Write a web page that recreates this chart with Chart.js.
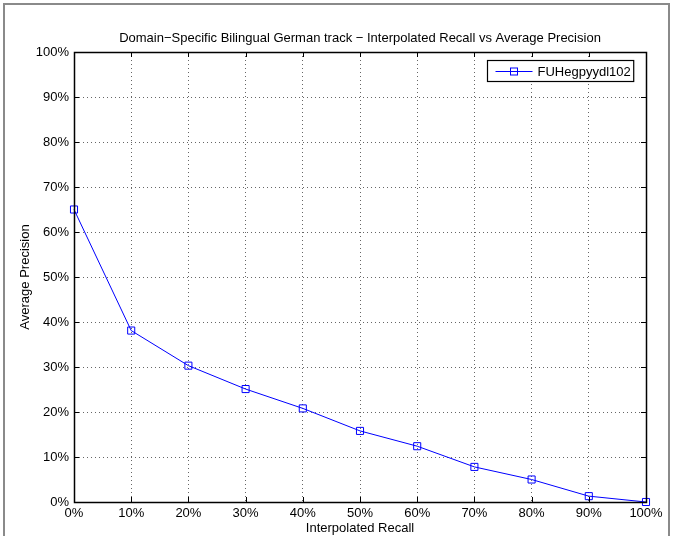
<!DOCTYPE html>
<html>
<head>
<meta charset="utf-8">
<script src="https://cdn.jsdelivr.net/npm/chart.js@4/dist/chart.umd.min.js"></script>
<style>
  html, body { margin: 0; padding: 0; background: #fff; }
  #wrap { width: 673px; height: 536px; position: relative; }
</style>
</head>
<body>
<div id="wrap"><canvas id="chart"></canvas></div>
<script>
// recall levels (x) and average precision (y), in percent
const recallLevels = [0, 10, 20, 30, 40, 50, 60, 70, 80, 90, 100];
const avgPrecision = [65.0, 38.1, 30.3, 25.1, 20.8, 15.8, 12.4, 7.8, 5.0, 1.3, 0.0];
const runName = 'FUHegpyydl102';
const titleText = 'Domain\u2212Specific Bilingual German track \u2212 Interpolated Recall vs Average Precision';
const xTitle = 'Interpolated Recall';
const yTitle = 'Average Precision';

const FONT = 'Liberation Sans, Arial, Helvetica, sans-serif';
const BLUE = '#0000ff';

// figure frame, plot box, inward ticks and the legend box
const decorations = {
    id: 'decorations',
    beforeDraw(chart) {
        const ctx = chart.ctx;
        ctx.save();
        ctx.fillStyle = '#fff';
        ctx.fillRect(0, 0, chart.width, chart.height);
        ctx.strokeStyle = '#8a8a8a';
        ctx.lineWidth = 2;
        ctx.strokeRect(4, 4, chart.width - 8, chart.height + 20);
        ctx.restore();
    },
    afterDraw(chart) {
        const ctx = chart.ctx;
        const a = chart.chartArea;
        const xs = chart.scales.x, ys = chart.scales.y;
        ctx.save();
        ctx.strokeStyle = '#000';
        ctx.lineWidth = 1;
        ctx.beginPath();
        xs.ticks.forEach(t => {
            const px = Math.round(xs.getPixelForValue(t.value)) + 0.5;
            ctx.moveTo(px, a.bottom); ctx.lineTo(px, a.bottom - 5);
            ctx.moveTo(px, a.top); ctx.lineTo(px, a.top + 5);
        });
        ys.ticks.forEach(t => {
            const py = Math.round(ys.getPixelForValue(t.value)) + 0.5;
            ctx.moveTo(a.left, py); ctx.lineTo(a.left + 5, py);
            ctx.moveTo(a.right, py); ctx.lineTo(a.right - 5, py);
        });
        ctx.stroke();
        ctx.lineWidth = 1.5;
        ctx.strokeRect(Math.round(a.left) + 0.5, Math.round(a.top) + 0.5,
            Math.round(a.right - a.left), Math.round(a.bottom - a.top));

        // legend
        ctx.font = '13px ' + FONT;
        const tw = ctx.measureText(runName).width;
        const w = tw + 53, h = 21;
        const x0 = Math.round(a.right - 13 - w) + 0.5;
        const y0 = Math.round(a.top + 8) + 0.5;
        ctx.fillStyle = '#fff';
        ctx.fillRect(x0, y0, w, h);
        ctx.strokeStyle = '#000';
        ctx.lineWidth = 1.2;
        ctx.strokeRect(x0, y0, w, h);
        const ly = Math.round(y0 + h / 2) + 0.5;
        ctx.strokeStyle = BLUE;
        ctx.lineWidth = 1;
        ctx.beginPath();
        ctx.moveTo(x0 + 8, ly); ctx.lineTo(x0 + 45, ly);
        ctx.stroke();
        ctx.strokeRect(x0 + 23, ly - 3.5, 7, 7);
        ctx.fillStyle = '#000';
        ctx.textAlign = 'left';
        ctx.textBaseline = 'middle';
        ctx.fillText(runName, x0 + 50, ly + 0.5);
        ctx.restore();
    }
};

const ctx = document.getElementById('chart').getContext('2d');
const chart = new Chart(ctx, {
    type: 'line',
    data: {
        datasets: [{
            label: runName,
            data: recallLevels.map((r, i) => ({ x: r, y: avgPrecision[i] })),
            borderColor: BLUE,
            borderWidth: 1,
            backgroundColor: 'transparent',
            pointStyle: 'rect',
            pointRadius: 5,
            pointBorderWidth: 1,
            pointBorderColor: BLUE,
            pointBackgroundColor: 'transparent',
            tension: 0,
            clip: false
        }]
    },
    options: {
        responsive: true,
        maintainAspectRatio: false,
        animation: false,
        layout: { padding: { left: 0, right: 27, top: 0, bottom: 0 } },
        plugins: {
            legend: { display: false },
            tooltip: { enabled: false },
            title: {
                display: true,
                text: titleText,
                fullSize: false,
                color: '#000',
                font: { family: FONT, size: 13, weight: 'normal' },
                padding: { top: 30.4, bottom: 6 }
            }
        },
        scales: {
            x: {
                type: 'linear',
                min: 0,
                max: 100,
                afterFit: s => { s.height = 34; },
                ticks: {
                    stepSize: 10,
                    autoSkip: false,
                    maxRotation: 0,
                    padding: 4,
                    color: '#000',
                    font: { family: FONT, size: 13 },
                    callback: v => v + '%'
                },
                grid: { color: 'rgba(0,0,0,0.6)', lineWidth: 1, drawTicks: false },
                border: { display: true, color: '#000', width: 1, dash: [1, 3] },
                title: {
                    display: true,
                    text: xTitle,
                    color: '#000',
                    font: { family: FONT, size: 13 },
                    padding: { top: 0, bottom: 0 }
                }
            },
            y: {
                min: 0,
                max: 100,
                afterFit: s => { s.width = 74; },
                ticks: {
                    stepSize: 10,
                    padding: 5,
                    color: '#000',
                    font: { family: FONT, size: 13 },
                    callback: v => v + '%'
                },
                grid: { color: 'rgba(0,0,0,0.6)', lineWidth: 1, drawTicks: false },
                border: { display: true, color: '#000', width: 1, dash: [1, 3] },
                title: {
                    display: true,
                    text: yTitle,
                    color: '#000',
                    font: { family: FONT, size: 13 },
                    padding: { top: 18, bottom: 0 }
                }
            }
        }
    },
    plugins: [decorations]
});
</script>
</body>
</html>
